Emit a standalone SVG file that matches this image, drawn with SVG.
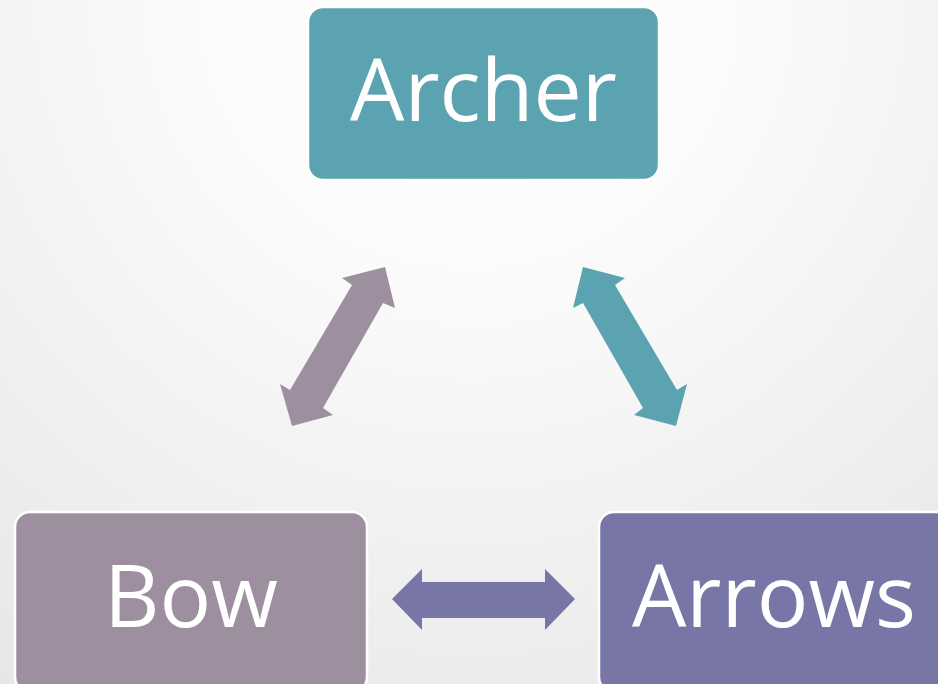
<svg xmlns="http://www.w3.org/2000/svg" width="938" height="684" viewBox="0 0 938 684">
<defs>
<radialGradient id="bg" cx="469" cy="0" r="900" gradientUnits="userSpaceOnUse">
<stop offset="0" stop-color="#ffffff"/>
<stop offset="0.3" stop-color="#fbfbfb"/>
<stop offset="1" stop-color="#e4e4e4"/>
</radialGradient>
<style>
.box{stroke:#ffffff;stroke-width:2.5}
.lbl{font-family:"Open Sans","Noto Sans",sans-serif;font-size:86px;fill:#ffffff;text-anchor:middle}
</style>
</defs>
<rect x="0" y="0" width="938" height="684" fill="url(#bg)"/>
<g id="connectors">
<polygon fill="#9E8FA0" points="385,267 395,308 383,303 323,408 333,415 292,426 280,384 290,390 352,285 342,278"/>
<polygon fill="#5BA3B0" points="583,267 625,278 615,285 677,390 687,384 676,426 634,415 643,408 583,303 573,308"/>
<polygon fill="#7776A6" points="392,599 422,569 422,582 545,582 545,569 575,599 545,630 545,618 422,618 422,630"/>
</g>
<g id="archer">
<rect class="box" x="308" y="7" width="351" height="173" rx="15" fill="#5BA3B0"/>
<text class="lbl" x="483.5" y="121">Archer</text>
</g>
<g id="bow">
<rect class="box" x="15" y="512" width="352" height="180" rx="15" fill="#9E8FA0"/>
<text class="lbl" x="191" y="627">Bow</text>
</g>
<g id="arrows">
<rect class="box" x="599" y="512" width="352" height="180" rx="15" fill="#7776A6"/>
<text class="lbl" x="774" y="627">Arrows</text>
</g>
</svg>
